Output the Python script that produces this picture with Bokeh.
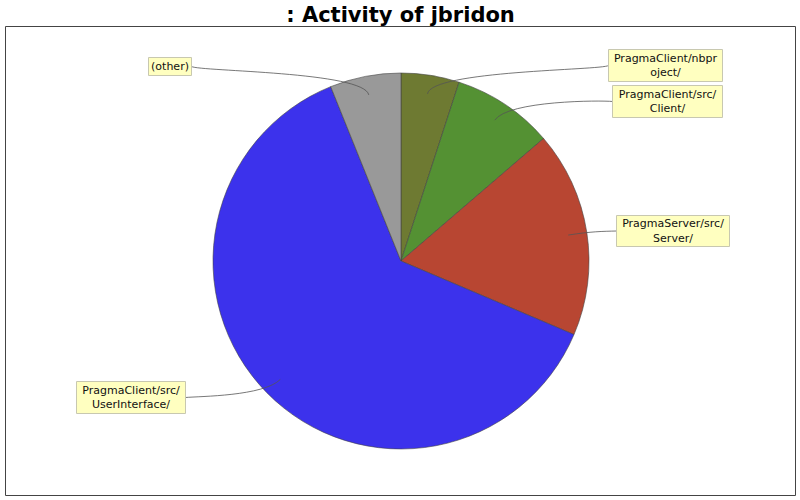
import math
from bokeh.plotting import figure
from bokeh.models import Range1d
from bokeh.core.properties import value
from bokeh.embed import file_html
from bokeh.resources import INLINE

# ---- data ----
categories = ["PragmaClient/nbproject/", "PragmaClient/src/Client/",
              "PragmaServer/src/Server/", "PragmaClient/src/UserInterface/", "(other)"]
values = [5.0, 8.7, 17.7, 62.5, 6.1]
colors = ["#6e7a32", "#549133", "#b84632", "#3c32ec", "#999999"]
label_lines = [["PragmaClient/nbpr", "oject/"], ["PragmaClient/src/", "Client/"],
               ["PragmaServer/src/", "Server/"], ["PragmaClient/src/", "UserInterface/"],
               ["(other)"]]
label_side = ["right", "right", "right", "left", "left"]

# ---- layout (reference pixel space, y up = 500 - y_ref) ----
CX, CY, R = 400.5, 500 - 260.5, 188.0
# label boxes: left, top, right, bottom in reference pixels (y down)
boxes = [(608, 49, 722, 81), (612, 85, 722, 117), (616, 215, 729, 246),
         (76, 381, 185, 413), (148, 57, 191, 75)]

p = figure(width=800, height=500, output_backend="svg", toolbar_location=None,
           x_range=Range1d(5, 795), y_range=Range1d(5, 474),
           min_border_left=5, min_border_right=5, min_border_bottom=5, min_border_top=26)
p.axis.visible = False
p.grid.visible = False
p.outline_line_color = "#444444"
p.outline_line_width = 1
p.background_fill_color = "white"
p.border_fill_color = "white"

p.title.text = ": Activity of jbridon"
p.title.align = "center"
p.title.text_font = "DejaVu Sans"
p.title.text_font_style = "bold"
p.title.text_font_size = "21px"
p.title.text_color = "black"
p.title.standoff = 0
p.title.offset = 0

total = sum(values)
starts, ends, mids = [], [], []
cum = 0.0
for v in values:
    a0 = math.pi / 2 - 2 * math.pi * cum / total
    a1 = math.pi / 2 - 2 * math.pi * (cum + v) / total
    starts.append(a0)
    ends.append(a1)
    mids.append((a0 + a1) / 2)
    cum += v

p.wedge(x=[CX] * len(values), y=[CY] * len(values), radius=R,
        start_angle=starts, end_angle=ends, direction="clock",
        fill_color=colors, line_color="#444444", line_width=0.6)

# label links (cubic curves as in JFreeChart)
x0s, y0s, x1s, y1s, cx0s, cy0s, cx1s, cy1s = ([] for _ in range(8))
RL = R * 1.027
for m, b, side in zip(mids, boxes, label_side):
    lx, ly = CX + 0.9 * R * math.cos(m), CY + 0.9 * R * math.sin(m)
    ex, ey = CX + RL * math.cos(m), CY + RL * math.sin(m)
    if side == "right":
        ax = CX + RL + 8
        tx = b[0]
    else:
        ax = CX - RL - 8
        tx = b[2]
    ty = 500 - (b[1] + b[3]) / 2
    x0s.append(tx); y0s.append(ty); cx0s.append(ax); cy0s.append(ey)
    cx1s.append(ex); cy1s.append(ey); x1s.append(lx); y1s.append(ly)

p.bezier(x0=x0s, y0=y0s, x1=x1s, y1=y1s, cx0=cx0s, cy0=cy0s, cx1=cx1s, cy1=cy1s,
         line_color="#555555", line_width=0.8)

# label boxes
p.quad(left=[b[0] for b in boxes], right=[b[2] for b in boxes],
       top=[500 - b[1] for b in boxes], bottom=[500 - b[3] for b in boxes],
       fill_color="#ffffc0", line_color="#c8c8b0", line_width=1)

tx, ty, tt = [], [], []
for lines, b in zip(label_lines, boxes):
    xc = (b[0] + b[2]) / 2
    yc = 500 - (b[1] + b[3]) / 2
    n = len(lines)
    for i, t in enumerate(lines):
        tx.append(xc)
        ty.append(yc + (n - 1) * 7.2 - i * 14.4)
        tt.append(t)
p.text(x=tx, y=ty, text=tt, text_align="center", text_baseline="middle",
       text_font=value("DejaVu Sans"), text_font_size="11px", text_color="#111111")

open("out.html", "w").write(file_html(p, INLINE))
